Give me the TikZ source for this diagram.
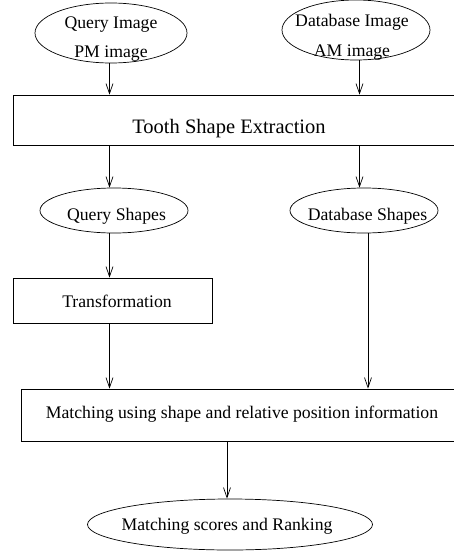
\documentclass[tikz,border=0pt]{standalone}
\usepackage{fontspec}
\setmainfont{Liberation Serif}
\usetikzlibrary{arrows.meta,shapes.geometric}
\begin{document}
\begin{tikzpicture}[x=1pt,y=-1pt,
 oval/.style={draw, ellipse, inner sep=0pt, line width=0.7pt},
 box/.style={draw, rectangle, inner sep=0pt, line width=0.7pt},
 lbl/.style={font=\fontsize{17.7pt}{30pt}\selectfont, inner sep=0pt, anchor=base},
 big/.style={font=\fontsize{20.5pt}{24pt}\selectfont, inner sep=0pt, anchor=base},
 arr/.style={-{Straight Barb[length=10pt,width=7pt]}, line width=0.7pt}]
\useasboundingbox (0,0) rectangle (453,554);
% column coordinates
\coordinate (c1) at (109.5,0);
\coordinate (c2) at (359.5,0);
\coordinate (c3) at (368,0);
\coordinate (c4) at (227,0);
% nodes
\node[oval, minimum width=152pt, minimum height=60pt] (qi) at (111,33) {};
\node[lbl] (qit1) at (111,28) {Query Image};
\node[lbl] (qit2) at (111,57) {PM image};
\node[oval, minimum width=148pt, minimum height=60pt] (di) at (356,30) {};
\node[lbl] (dit1) at (352,27) {Database Image};
\node[lbl] (dit2) at (352,56) {AM image};
\node[box, minimum width=442pt, minimum height=50pt] (tse) at (234,120) {};
\node[big] (tset) at (229,133) {Tooth Shape Extraction};
\node[oval, minimum width=148pt, minimum height=45pt] (qs) at (114,210.5) {};
\node[lbl] (qst) at (116.5,220) {Query Shapes};
\node[oval, minimum width=148pt, minimum height=45pt] (ds) at (364,210.5) {};
\node[lbl] (dst) at (367.5,220) {Database Shapes};
\node[box, minimum width=199pt, minimum height=45pt] (tr) at (112.5,300.5) {};
\node[lbl] (trt) at (117,307) {Transformation};
\node[box, minimum width=444pt, minimum height=52pt] (mt) at (243,415) {};
\node[lbl] (mtt) at (242,418) {Matching using shape and relative position information};
\node[oval, minimum width=285pt, minimum height=51pt] (ms) at (230,524.5) {};
\node[lbl] (mst) at (227,530) {Matching scores and Ranking};
% connectors
\draw[arr] (c1 |- qi.south) -- (c1 |- tse.north);
\draw[arr] (c2 |- di.south) -- (c2 |- tse.north);
\draw[arr] (c1 |- tse.south) -- (c1 |- qs.north);
\draw[arr] (c2 |- tse.south) -- (c2 |- ds.north);
\draw[arr] (c1 |- qs.south) -- (c1 |- tr.north);
\draw[arr] (c1 |- tr.south) -- (c1 |- mt.north);
\draw[arr] (c3 |- ds.south) -- (c3 |- mt.north);
\draw[arr] (c4 |- mt.south) -- (c4 |- ms.north);
\end{tikzpicture}
\end{document}
